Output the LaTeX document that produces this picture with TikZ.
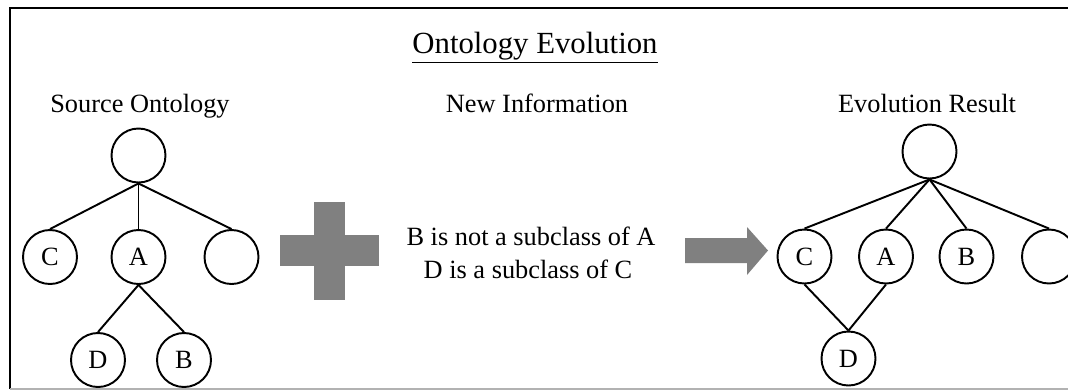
\documentclass[tikz,border=0pt]{standalone}
\usepackage{fontspec}
\setmainfont{Liberation Serif}
\definecolor{opgrey}{RGB}{128,128,128}
\tikzset{
  onode/.style={draw,circle,line width=1.1pt,minimum size=1.08cm,inner sep=0pt,font=\fontsize{15}{18}\selectfont},
  link/.style={line width=1.1pt},
  heading/.style={anchor=base,font=\fontsize{15}{18}\selectfont},
}
\begin{document}
\begin{tikzpicture}[x=0.02cm,y=-0.02cm]
            \useasboundingbox (0,0) rectangle (1068,390);
            % frame
            \draw[line width=1.4pt] (10,389) -- (10,8) -- (1068,8);
            \draw[gray!60,line width=0.6pt] (10,389) -- (1068,389);
            \node[heading,font=\fontsize{17.5}{21}\selectfont] (title) at (535,53) {\underline{Ontology Evolution}};
            \node[heading] (srclabel) at (140,112) {Source Ontology};
            \node[heading] (newlabel) at (537,112) {New Information};
            \node[heading] (reslabel) at (927,112) {Evolution Result};
            % source ontology
            \node[onode] (sroot) at (138.5,155.5) {};
            \foreach \n/\x/\t in {sc/50/C, sa/138.5/A, sx/231.5/{}} {
                \node[onode] (\n) at (\x,257) {\t};
                \draw[link] (sroot.south) -- (\n.north);
            }
            \node[onode] (sd) at (98,360) {D};
            \node[onode] (sb) at (184,360) {B};
            \foreach \n in {sd,sb} {
                \draw[link] (sa.south) -- (\n.north);
            }
            % plus
            \fill[opgrey] (314,202) rectangle (345,300);
            \fill[opgrey] (280,235) rectangle (379,266);
            \node[heading] (info1) at (531,245) {B is not a subclass of A};
            \node[heading] (info2) at (528,278) {D is a subclass of C};
            % arrow
            \fill[opgrey] (685,238) -- (747,238) -- (747,227) -- (768,250.5) -- (747,275) -- (747,263) -- (685,263) -- cycle;
            % evolution result
            \node[onode] (rroot) at (929.5,151.5) {};
            \foreach \n/\x/\t in {rc/804.5/C, ra/886/A, rb/966.5/B, rx/1049/{}} {
                \node[onode] (\n) at (\x,256.5) {\t};
                \draw[link] (rroot.south) -- (\n.north);
            }
            \node[onode] (rd) at (848.5,358.5) {D};
            \foreach \n in {rc,ra} {
                \draw[link] (\n.south) -- (rd.north);
            }
\end{tikzpicture}
\end{document}
